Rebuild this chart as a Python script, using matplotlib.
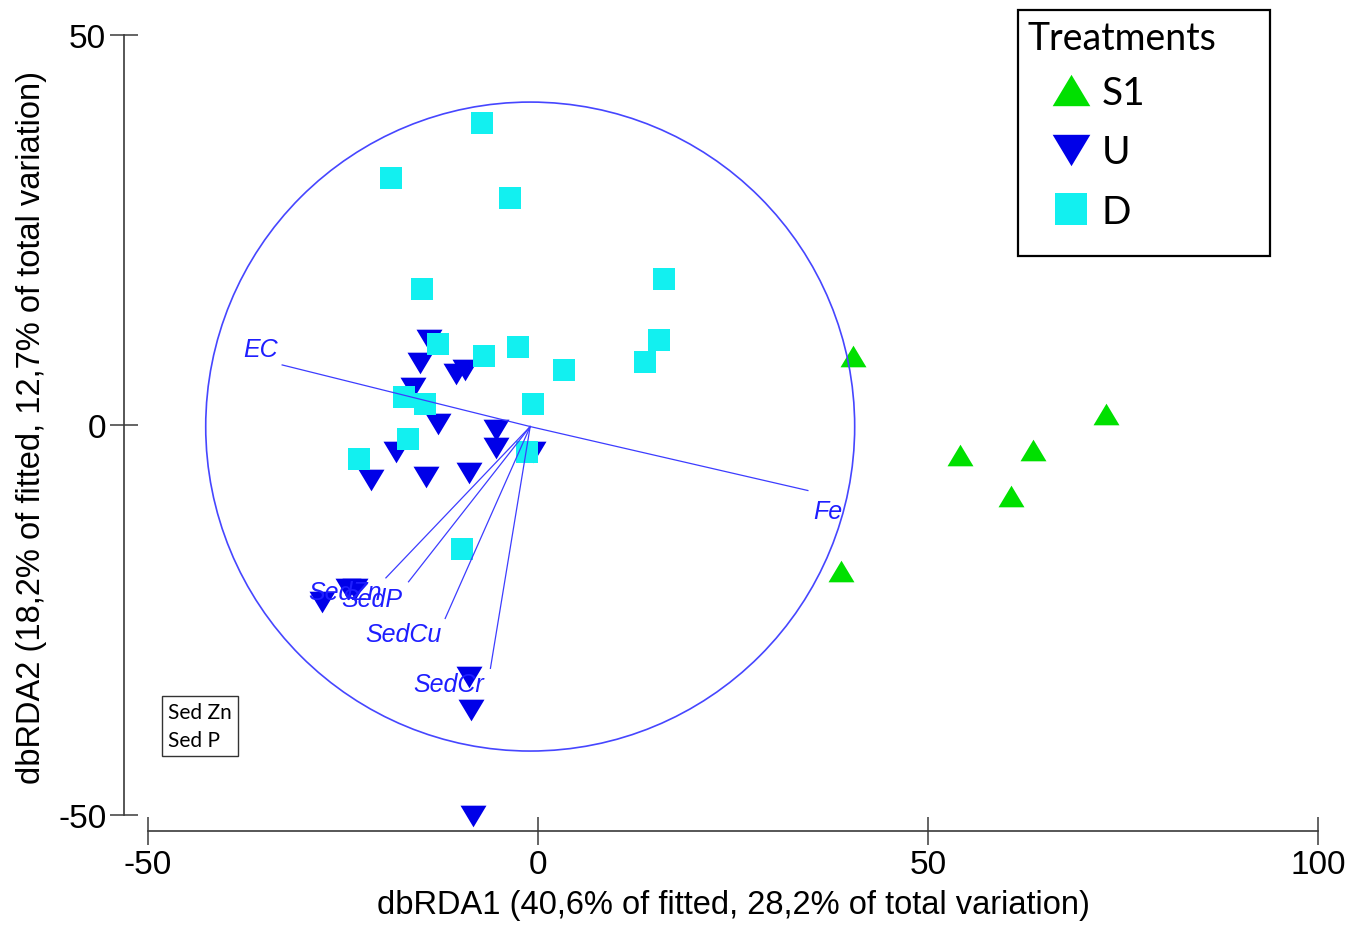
import matplotlib
matplotlib.use("Agg")
import matplotlib.pyplot as plt
from matplotlib.patches import Circle, Rectangle

plt.rcParams["font.family"] = ["Liberation Sans", "DejaVu Sans"]
plt.rcParams["axes.unicode_minus"] = False

# sample scores (dbRDA1, dbRDA2) per treatment
s1_x = [40.4, 72.8, 63.4, 54.1, 60.7, 38.8]
s1_y = [8.9, 1.4, -3.2, -3.9, -9.1, -18.7]

u_x = [-14.0, -15.1, -10.5, -9.4, -16.0, -12.8, -5.4, -5.4, -0.6, -18.2,
       -21.4, -14.3, -8.9, -24.4, -23.4, -27.7, -8.8, -8.6, -8.3]
u_y = [10.9, 8.0, 6.5, 7.0, 4.8, 0.1, -0.7, -2.9, -3.5, -3.5,
       -7.1, -6.7, -6.1, -21.0, -21.0, -22.7, -32.3, -36.6, -50.1]

d_x = [-7.2, -18.8, -3.6, -14.9, 16.2, -12.8, -6.9, -2.6, 3.3, 15.5,
       13.7, -17.2, -14.5, -0.7, -16.7, -22.9, -1.4, -9.7]
d_y = [38.7, 31.7, 29.1, 17.4, 18.7, 10.4, 8.8, 10.0, 7.1, 10.9,
       8.1, 3.6, 2.7, 2.7, -1.8, -4.4, -3.4, -15.9]

# predictor vectors (relative to the circle centre)
vec_names = ["EC", "Fe", "SedZn", "SedP", "SedCu", "SedCr"]
vec_x = [-31.8, 35.6, -18.5, -15.6, -10.9, -5.1]
vec_y = [7.9, -8.2, -19.4, -19.9, -24.6, -31.0]
label_x = [-35.6, 37.2, -24.7, -21.3, -17.3, -11.4]
label_y = [9.7, -11.0, -21.4, -22.3, -26.8, -33.2]
circle_center = (-1.0, -0.2)
circle_r = 41.6

W, H = 1355, 929
fig = plt.figure(figsize=(W / 100, H / 100), dpi=100)
ax = fig.add_axes([148 / W, 1 - 816 / H, 1170 / W, 780 / H])
ax.set_xlim(-50, 100)
ax.set_ylim(-50, 50)

up = [(0, 1), (-1.2, -1), (1.2, -1)]
down = [(0, -1), (-1.2, 1), (1.2, 1)]
h_s1, = ax.plot(s1_x, s1_y, ls="none", marker=up, ms=18.7, mew=0,
                color="#00e000", zorder=3, clip_on=False)
h_u, = ax.plot(u_x, u_y, ls="none", marker=down, ms=18.7, mew=0,
               color="#0000e8", zorder=3, clip_on=False)
h_d, = ax.plot(d_x, d_y, ls="none", marker="s", ms=15.8, mew=0,
               color="#12f0f0", zorder=4, clip_on=False)

cx, cy = circle_center
for name, vx, vy, lx, ly in zip(vec_names, vec_x, vec_y, label_x, label_y):
    ax.plot([cx, cx + vx], [cy, cy + vy], color="#3c3cff", lw=0.9, zorder=5)
    ax.text(lx, ly, name, color="#1e1eff", fontsize=18, style="italic",
            ha="center", va="center", zorder=6)
ax.add_patch(Circle(circle_center, circle_r, fill=False, ec="#4646ff",
                    lw=1.2, zorder=5))

# axes styling: detached spines, ticks crossing the line
for side in ["top", "right"]:
    ax.spines[side].set_visible(False)
ax.spines["left"].set_position(("outward", 17.3))
ax.spines["bottom"].set_position(("outward", 11.5))
for side in ["left", "bottom"]:
    ax.spines[side].set_color("#3a3a3a")
    ax.spines[side].set_linewidth(1.2)
ax.set_xticks([-50, 0, 50, 100])
ax.set_yticks([-50, 0, 50])
ax.tick_params(direction="inout", length=19.5, width=1.1, color="#3a3a3a",
               labelsize=24, pad=3)
ax.patch.set_visible(False)

fig.text(733 / W, 1 - 906 / H,
         "dbRDA1 (40,6% of fitted, 28,2% of total variation)",
         ha="center", va="center", fontsize=23.5)
fig.text(32 / W, 1 - 427 / H,
         "dbRDA2 (18,2% of fitted, 12,7% of total variation)",
         ha="center", va="center", rotation=90, fontsize=23.5)

# treatments legend
fig.add_artist(Rectangle((1018 / W, 1 - 257 / H), 252 / W, 246 / H,
                         transform=fig.transFigure, fill=False,
                         ec="black", lw=1.6))
fig.text(1027 / W, 1 - 50 / H, "Treatments", family="Lato", fontsize=27,
         ha="left", va="baseline")
ax.legend([h_s1, h_u, h_d], ["S1", "U", "D"], loc="upper left",
          bbox_to_anchor=(1051 / W, 1 - 76 / H), bbox_transform=fig.transFigure,
          frameon=False, borderpad=0, borderaxespad=0, handlelength=1.03,
          handletextpad=0.28, labelspacing=0.6, markerscale=1.45,
          prop={"family": "Lato", "size": 28})

fig.text(168 / W, 1 - 703 / H, "Sed Zn\nSed P", family="Lato", fontsize=15,
         ha="left", va="top", linespacing=1.5,
         bbox=dict(boxstyle="square,pad=0.3", fc="white", ec="#333333", lw=1))

fig.savefig("out.png", dpi=100)
